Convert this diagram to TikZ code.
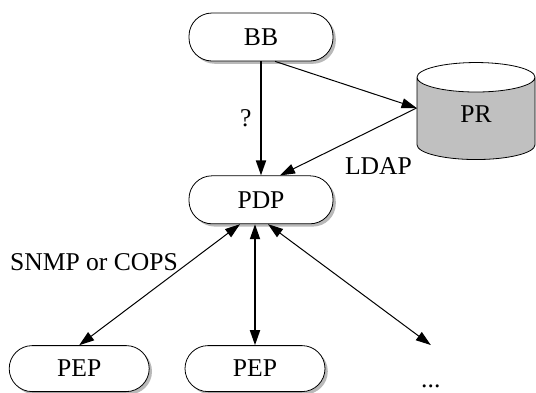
\documentclass[tikz,border=0pt]{standalone}
\usepackage{fontspec}
\setmainfont{Liberation Serif}
\usetikzlibrary{shapes.geometric, arrows.meta, positioning, calc, shadows}
\definecolor{prgray}{RGB}{192,192,192}
\definecolor{shadowgray}{RGB}{185,185,185}

\begin{document}
\begin{tikzpicture}[x=0.5pt, y=-0.5pt,
  plain/.style={rectangle, minimum width=70pt, minimum height=23pt, font=\fontsize{12.8}{15}\selectfont},
  entity/.style={rectangle, rounded corners=11.5pt, draw=black, fill=white, minimum width=72pt, minimum height=24pt, font=\fontsize{12.8}{15}\selectfont, drop shadow={shadow xshift=1.4pt, shadow yshift=-1.4pt, fill=shadowgray, opacity=1}},
  pep/.style={entity, minimum width=70pt, minimum height=23pt},
  store/.style={cylinder, shape border rotate=90, aspect=0.66, draw=black, cylinder uses custom fill, cylinder body fill=prgray, cylinder end fill=white, minimum width=59pt, minimum height=48.5pt, text depth=8pt, font=\fontsize{12.8}{15}\selectfont},
  lbl/.style={font=\fontsize{12.8}{15}\selectfont},
  arr/.style={-{Triangle[length=7.5pt, width=5pt]}, line width=0.5pt},
  biarr/.style={{Triangle[length=7.5pt, width=5pt]}-{Triangle[length=7.5pt, width=5pt]}, line width=0.5pt}
]
\useasboundingbox (0,0) rectangle (536,392);
\node[entity] (bb) at (261,37) {BB};
\node[entity, below=57pt of bb] (pdp) {PDP};
\node[pep, below=60.5pt of pdp, xshift=-3pt] (pep2) {PEP};
\node[pep, left=17.5pt of pep2] (pep1) {PEP};
\node[plain, text height=19pt, inner ysep=2pt, right=17.5pt of pep2] (dots) {...};
\node[store] (pr) at (476,122) {PR};
\draw[arr, line width=0.9pt] (bb) -- node[lbl, left=1pt] (q) {?} (pdp);
\draw[arr] (bb.-60) -- ([yshift=7pt]pr.west);
\draw[arr] ([yshift=7pt]pr.west) -- ([xshift=9.5pt]pdp.north);
\node[lbl] (ldap) at (378.5,166) {LDAP};
% policy targets
\draw[biarr] ([xshift=-10.5pt]pdp.south) -- (pep1.north);
\draw[biarr, line width=0.9pt] (pep2.north |- pdp.south) -- (pep2.north);
\draw[biarr] ([xshift=3.5pt]pdp.south) -- (dots.north);
\node[lbl] (proto) at (94,262) {SNMP or COPS};
\end{tikzpicture}
\end{document}
